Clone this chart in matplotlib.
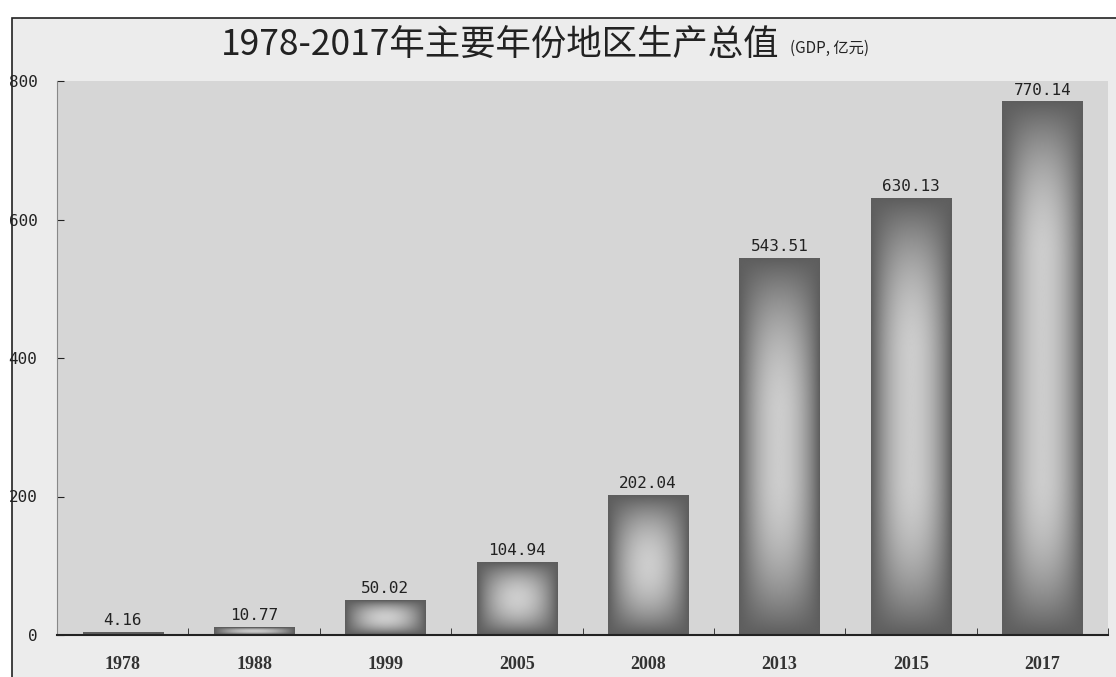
import numpy as np
import matplotlib.pyplot as plt
from matplotlib.patches import Rectangle

plt.rcParams['font.family'] = ['Noto Sans CJK SC', 'DejaVu Sans']

years = ['1978', '1988', '1999', '2005', '2008', '2013', '2015', '2017']
gdp = [4.16, 10.77, 50.02, 104.94, 202.04, 543.51, 630.13, 770.14]
yticks = [0, 200, 400, 600, 800]

fig = plt.figure(figsize=(11.16, 6.77), dpi=100)
fig.patch.set_facecolor('white')

# outer frame of the picture
fig.patches.append(Rectangle((12 / 1116, -0.01), 1.0, 1 - 18 / 677 + 0.01,
                             transform=fig.transFigure, facecolor='#ececec',
                             edgecolor='#222222', linewidth=1.2, zorder=-5))

ax = fig.add_axes([57 / 1116, 1 - 635 / 677, 1051 / 1116, 554 / 677])
ax.set_facecolor('#d6d6d6')

x = np.arange(len(years))
bars = ax.bar(x, gdp, width=0.61, color='none', edgecolor='none', zorder=2)

ax.set_xlim(-0.5, len(years) - 0.5)
ax.set_ylim(0, 800)
fig.canvas.draw()

# shaded fill for each bar (dark edges, light centre)
px_per_y = ax.transData.transform((0, 1))[1] - ax.transData.transform((0, 0))[1]
px_per_x = ax.transData.transform((1, 0))[0] - ax.transData.transform((0, 0))[0]
for b in bars:
    x0, y0, w, h = b.get_x(), b.get_y(), b.get_width(), b.get_height()
    wpx, hpx = w * px_per_x, max(h * px_per_y, 2)
    nx, ny = max(int(wpx), 2), max(int(hpx), 2)
    u = np.linspace(0, wpx, nx)
    v = np.linspace(0, hpx, ny)
    dx = np.minimum(u, wpx - u) / (wpx / 2)
    dy = np.clip(np.minimum(v, hpx - v) / min(hpx / 2, 160), 0, 1)
    sx = 1 - (1 - dx) ** 2
    sy = 1 - (1 - dy) ** 2
    t = sx[None, :] * sy[:, None]
    img = 0.37 + 0.43 * t
    ax.imshow(img, cmap='gray', vmin=0, vmax=1, extent=(x0, x0 + w, y0, y0 + h),
              origin='lower', aspect='auto', interpolation='bilinear', zorder=2)
    ax.text(x0 + w / 2, y0 + h + 6, f'{h:.2f}', ha='center', va='bottom',
            fontsize=11.5, family='DejaVu Sans Mono', color='#222222', zorder=3)

ax.set_xlim(-0.5, len(years) - 0.5)
ax.set_ylim(0, 800)

ax.set_xticks(x)
ax.set_xticklabels(years, fontsize=13, fontweight='bold', family='Liberation Serif',
                   color='#333333')
ax.set_xticks(np.arange(0.5, len(years), 1), minor=True)
ax.tick_params(axis='x', which='major', length=0, pad=15)
ax.tick_params(axis='x', which='minor', direction='in', length=5, color='#222222')
ax.set_yticks(yticks)
ax.set_yticklabels([str(v) for v in yticks], fontsize=11.5, family='DejaVu Sans Mono',
                   color='#222222')
ax.tick_params(axis='y', direction='in', length=5, pad=14, color='#222222')

for s in ['top', 'right']:
    ax.spines[s].set_visible(False)
ax.spines['bottom'].set_color('#222222')
ax.spines['bottom'].set_linewidth(1.5)
ax.spines['left'].set_color('#888888')
ax.spines['left'].set_linewidth(0.8)

fig.text(0.198, 1 - 46 / 677, '1978-2017年主要年份地区生产总值', fontsize=25.5,
         ha='left', va='center', color='#222222', fontweight='light')
fig.text(0.708, 1 - 48 / 677, '(GDP, 亿元)', fontsize=11, ha='left', va='center',
         color='#222222')

fig.savefig('out.png', dpi=100)
